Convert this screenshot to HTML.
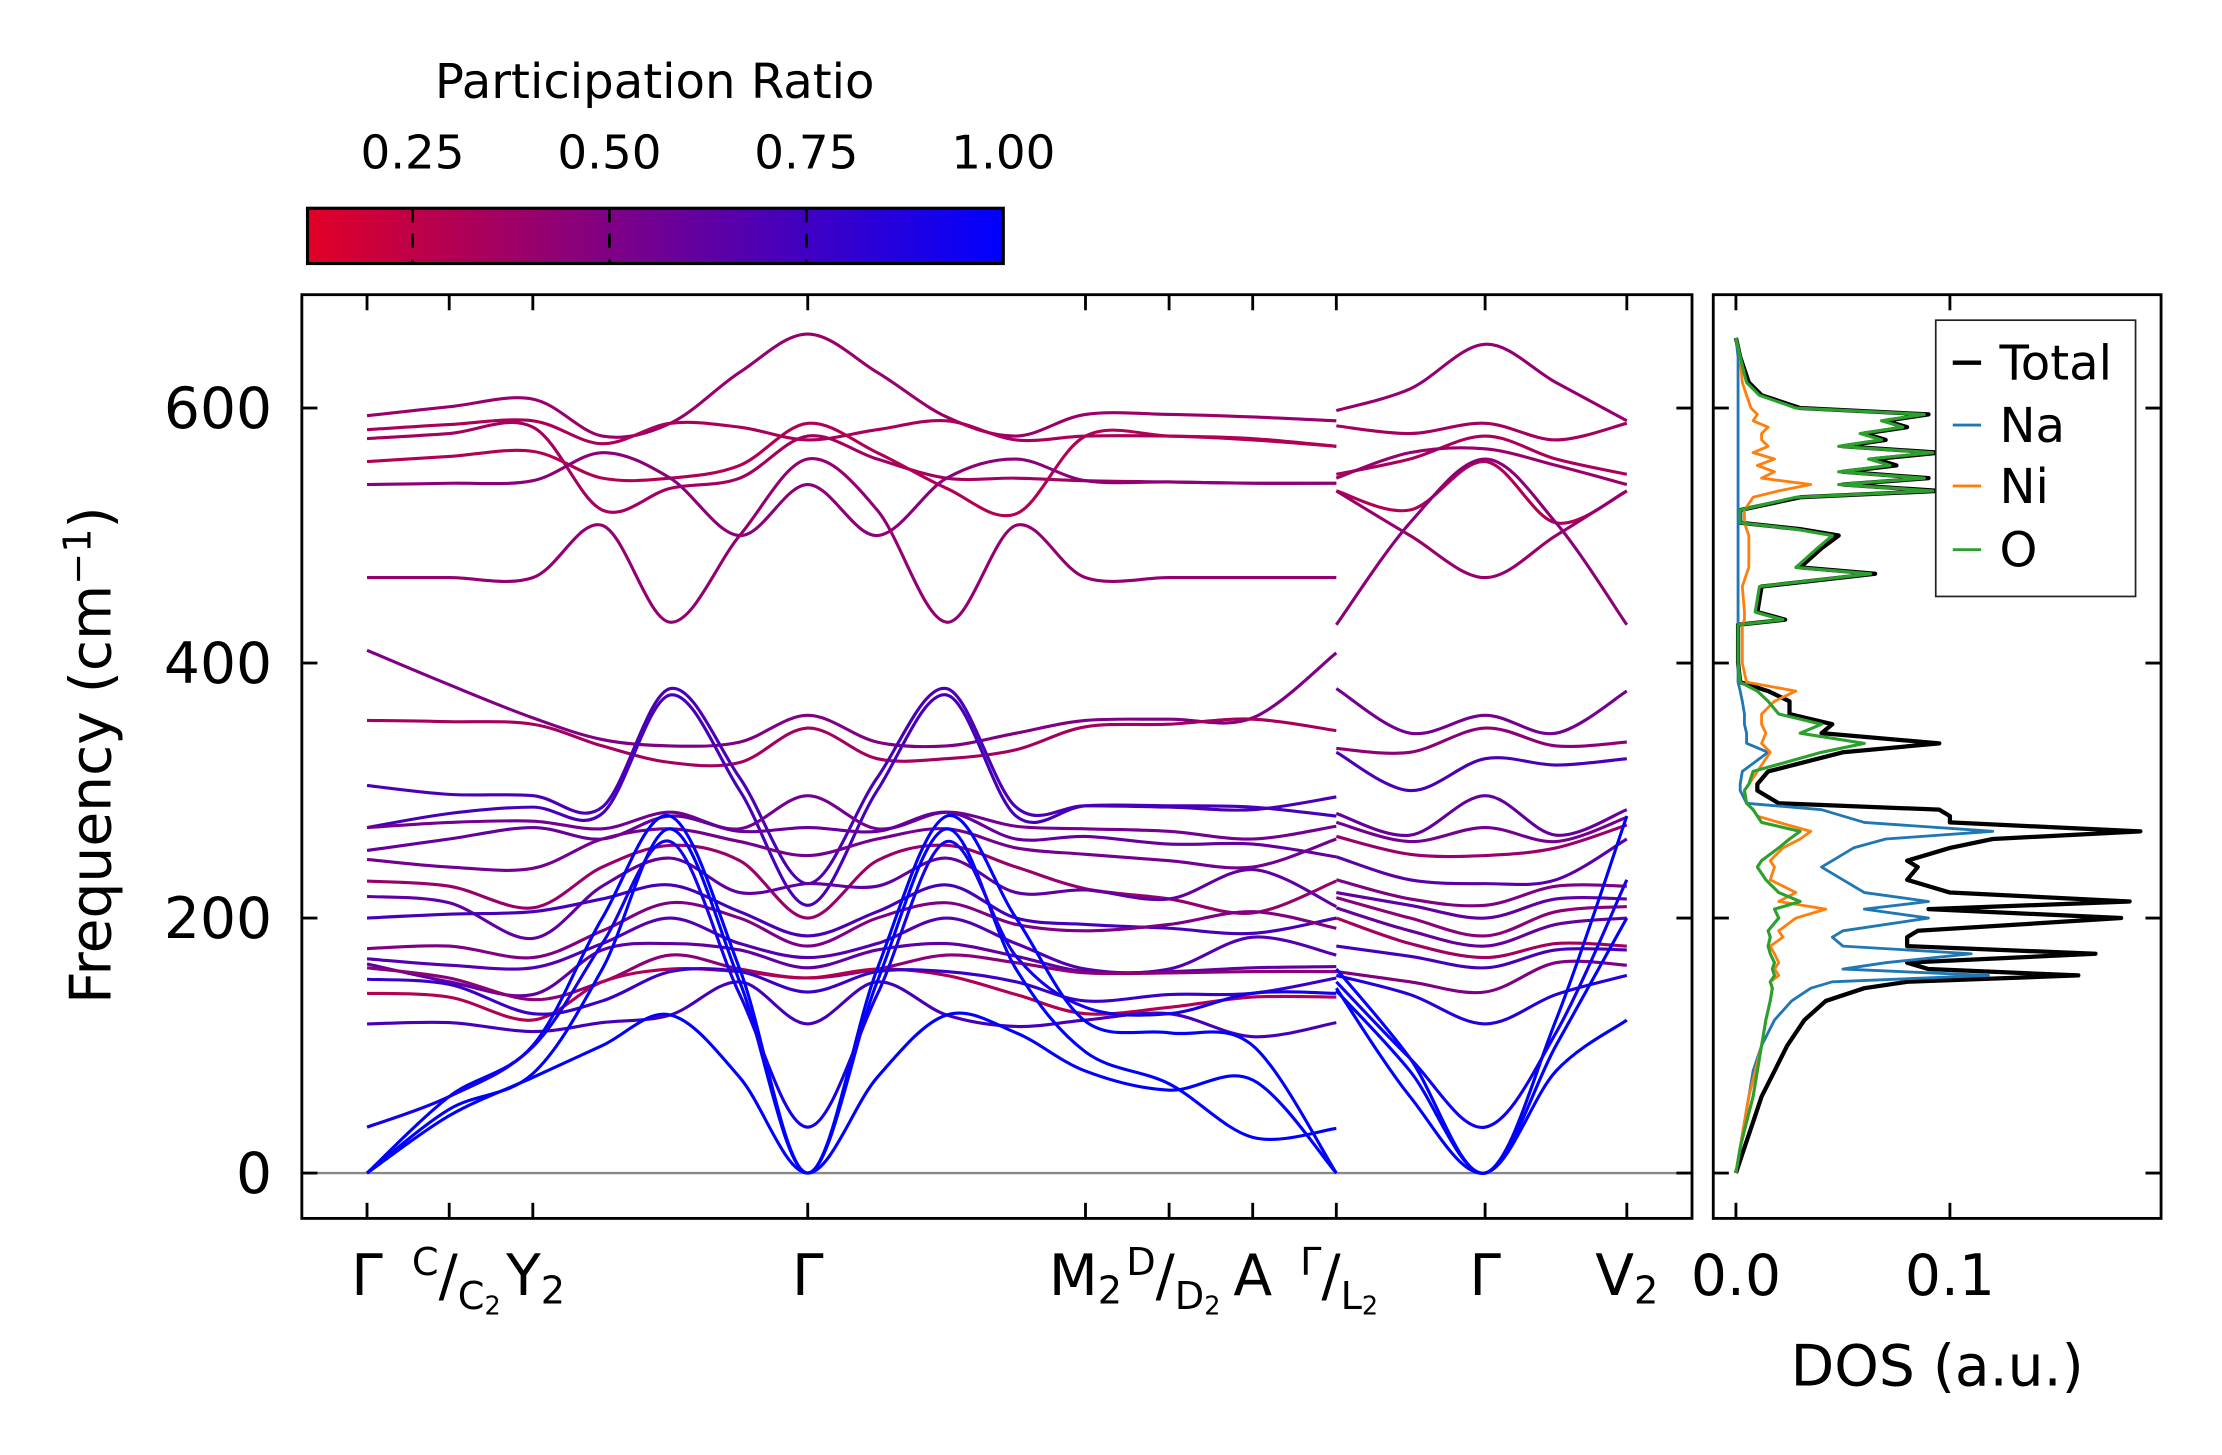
<!DOCTYPE html>
<html><head><meta charset="utf-8"><title>Phonon bands and DOS</title>
<style>
html,body{margin:0;padding:0;background:#fff;}
svg{display:block;font-family:"DejaVu Sans","Liberation Sans",sans-serif;}
</style></head>
<body>
<svg id="fig" width="2222" height="1455" viewBox="0 0 1568 1027" preserveAspectRatio="none" xmlns="http://www.w3.org/2000/svg">
<defs>
<linearGradient id="cmap" x1="0" x2="1" y1="0" y2="0">
<stop offset="0" stop-color="rgb(225,0,38)"/><stop offset="1" stop-color="rgb(0,0,255)"/>
</linearGradient>
<clipPath id="clipMain"><rect x="213" y="208" width="981" height="652"/></clipPath>
<clipPath id="clipDos"><rect x="1209" y="208" width="316" height="652"/></clipPath>
</defs>
<g>
<text x="462" y="69" font-size="34" text-anchor="middle">Participation Ratio</text>
<rect x="217" y="147" width="491" height="39" fill="url(#cmap)" stroke="#000" stroke-width="2.2"/>
<g id="cbticks"></g>
</g>
<g id="main">
<line x1="213" x2="1194" y1="828" y2="828" stroke="#888" stroke-width="1.6"/>
<g id="bands" clip-path="url(#clipMain)"></g>
<rect x="213" y="208" width="981" height="652" fill="none" stroke="#000" stroke-width="2"/>
<g id="mainticks"></g>
<text transform="translate(78,533) rotate(-90)" font-size="40" text-anchor="middle">Frequency (cm<tspan dy="-14" font-size="27">−1</tspan><tspan dy="14">)</tspan></text>
</g>
<g id="dos">
<g id="doslines" clip-path="url(#clipDos)"></g>
<rect x="1209" y="208" width="316" height="652" fill="none" stroke="#000" stroke-width="2"/>
<g id="dosticks"></g>
<text x="1367" y="978" font-size="40" text-anchor="middle">DOS (a.u.)</text>
<g>
<rect x="1366" y="226" width="141" height="195" fill="#fff" stroke="#222" stroke-width="1.2"/>
<line x1="1378" x2="1398" y1="256" y2="256" stroke="#000" stroke-width="3"/>
<text x="1411" y="268" font-size="34">Total</text>
<line x1="1378" x2="1398" y1="300" y2="300" stroke="#1f77b4" stroke-width="2"/>
<text x="1411" y="312" font-size="34">Na</text>
<line x1="1378" x2="1398" y1="343" y2="343" stroke="#ff7f0e" stroke-width="2"/>
<text x="1411" y="355" font-size="34">Ni</text>
<line x1="1378" x2="1398" y1="388" y2="388" stroke="#2ca02c" stroke-width="2"/>
<text x="1411" y="400" font-size="34">O</text>
</g>
</g>
<g font-size="40" text-anchor="middle">
<text x="259" y="914">Γ</text>
<text x="322" y="914"><tspan font-size="27" dy="-14">C</tspan><tspan dy="14">/</tspan><tspan font-size="27" dy="10">C</tspan><tspan font-size="18" dy="4">2</tspan></text>
<text x="378" y="914">Y<tspan font-size="27" dy="6">2</tspan></text>
<text x="570" y="914">Γ</text>
<text x="766" y="914">M<tspan font-size="27" dy="6">2</tspan></text>
<text x="828" y="914"><tspan font-size="27" dy="-14">D</tspan><tspan dy="14">/</tspan><tspan font-size="27" dy="10">D</tspan><tspan font-size="18" dy="4">2</tspan></text>
<text x="884" y="914">A</text>
<text x="945" y="914"><tspan font-size="27" dy="-14">Γ</tspan><tspan dy="14">/</tspan><tspan font-size="27" dy="10">L</tspan><tspan font-size="18" dy="4">2</tspan></text>
<text x="1048" y="914">Γ</text>
<text x="1148" y="914">V<tspan font-size="27" dy="6">2</tspan></text>
</g>
</svg>
<script>
// ---------- data ----------
const kPath1 = [0,0.58,1.17,1.66,2.14,2.63,3.11,3.60,4.09,4.58,5.07,5.66,6.25,6.84];
const kPath2 = [6.84,7.36,7.89,8.39,8.89];
const kTicks = [0,0.58,1.17,3.11,5.07,5.66,6.25,6.84,7.89,8.89];
const freqTicks = [0,200,400,600];
const freqTickLabels = ["0","200","400","600"];
const cbTicks = [0.25,0.50,0.75,1.00];
const cbTickLabels = ["0.25","0.50","0.75","1.00"];
const bandsPR1 = [0.40,0.33,0.36,0.30,0.45,0.42,
  0.50,0.35,0.70,0.72,0.55,0.60,0.55,0.40,0.62,0.72,0.50,0.68,0.62,0.45,0.30,0.78,0.72,1,1,1,0.92];
const bandsFreq1 = [
 [594,601,607,578,588,628,658,628,593,578,595,595,593,590],
 [583,587,590,572,588,585,575,583,590,575,578,578,576,570],
 [576,580,585,520,537,545,578,560,545,545,543,542,541,541],
 [558,562,566,545,545,555,588,565,537,517,578,578,575,570],
 [540,541,543,565,545,500,540,500,545,560,543,542,541,541],
 [467,467,467,508,432,500,560,520,432,508,467,467,467,467],
 [410,383,357,340,335,338,359,338,335,345,355,356,357,408],
 [355,354,352,335,322,322,349,325,325,332,350,352,356,347],
 [304,297,296,287,380,310,227,310,380,287,288,287,285,295],
 [271,282,287,282,375,300,210,300,375,280,288,288,287,280],
 [271,275,276,270,283,270,296,270,283,272,270,268,262,272],
 [253,262,271,262,280,268,271,268,283,262,264,258,258,248],
 [246,240,239,262,270,260,249,262,270,255,250,245,240,262],
 [229,225,208,240,257,245,200,245,257,240,223,215,204,229],
 [217,212,184,225,247,220,227,225,247,220,222,215,238,209],
 [200,203,205,215,226,205,186,205,226,200,195,192,188,200],
 [176,178,169,190,212,200,178,200,212,195,190,195,205,192],
 [168,163,161,180,200,180,169,180,200,180,160,160,185,171],
 [164,150,140,175,180,175,161,175,180,170,158,158,161,162],
 [161,153,136,150,171,160,153,160,171,165,157,157,158,158],
 [141,138,120,150,160,158,153,160,155,140,125,130,138,138],
 [152,148,125,135,158,158,142,158,158,150,135,140,141,153],
 [117,118,111,118,124,150,117,150,124,115,120,125,107,118],
 [0,45,75,100,124,75,0,75,124,110,80,65,73,0],
 [0,50,78,160,270,150,0,150,270,160,95,70,28,35],
 [0,60,100,200,280,160,0,160,280,200,119,110,100,0],
 [36,60,99,180,260,140,36,140,260,170,130,125,141,141]
];
const bandsPR2 = [0.42,0.35,0.33,0.40,0.30,0.40,0.45,
  0.55,0.45,0.70,0.60,0.55,0.40,0.65,0.50,0.62,0.45,0.60,0.35,0.72,0.50,0.85,1,1,1,0.95];
const bandsFreq2 = [
 [598,615,650,620,590],
 [586,580,588,575,588],
 [548,560,578,560,548],
 [545,565,568,555,540],
 [535,520,558,510,535],
 [535,500,467,500,535],
 [430,510,560,510,430],
 [380,345,359,345,378],
 [333,330,349,335,338],
 [330,300,325,320,325],
 [282,265,296,265,285],
 [275,260,271,260,279],
 [264,250,249,255,273],
 [248,230,227,230,262],
 [230,215,210,225,225],
 [220,210,200,215,215],
 [216,200,186,205,209],
 [208,190,178,195,200],
 [200,180,169,180,178],
 [178,170,161,175,175],
 [158,150,142,165,163],
 [155,140,117,140,155],
 [143,80,0,100,200],
 [145,60,0,80,120],
 [160,90,0,120,280],
 [150,90,36,110,230]
];
const dosFreq  = [0,10,20,40,60,80,100,120,135,145,150,155,160,165,172,178,185,190,200,207,213,220,230,240,245,255,262,268,275,280,285,290,300,305,315,330,337,345,352,360,370,378,385,400,430,434,440,460,470,475,490,500,505,510,520,530,535,540,545,550,555,560,565,570,575,580,585,590,595,600,610,620,640,655];
const dosTotal = [0,0.002,0.004,0.008,0.012,0.018,0.024,0.032,0.042,0.060,0.080,0.160,0.090,0.080,0.168,0.080,0.080,0.085,0.180,0.090,0.184,0.100,0.080,0.085,0.080,0.100,0.120,0.189,0.100,0.100,0.095,0.020,0.010,0.010,0.015,0.050,0.095,0.040,0.045,0.025,0.025,0.015,0.002,0.001,0.001,0.023,0.010,0.012,0.065,0.030,0.040,0.048,0.030,0.002,0.002,0.030,0.095,0.050,0.090,0.050,0.075,0.065,0.095,0.050,0.070,0.060,0.080,0.070,0.090,0.030,0.012,0.006,0.002,0];
const dosNa    = [0,0.001,0.002,0.004,0.006,0.008,0.012,0.018,0.026,0.035,0.045,0.118,0.050,0.070,0.110,0.050,0.045,0.050,0.090,0.060,0.090,0.060,0.050,0.040,0.045,0.055,0.070,0.120,0.060,0.050,0.040,0.005,0.002,0.002,0.003,0.015,0.005,0.005,0.004,0.004,0.003,0.002,0.001,0.001,0.001,0.001,0.001,0.001,0.001,0.001,0.001,0.001,0.001,0.001,0.001,0.001,0.001,0.001,0.001,0.001,0.001,0.001,0.001,0.001,0.001,0.001,0.001,0.001,0.001,0.001,0.001,0.001,0.001,0];
const dosNi    = [0,0.001,0.002,0.004,0.006,0.009,0.012,0.014,0.016,0.017,0.016,0.020,0.018,0.020,0.018,0.016,0.022,0.020,0.028,0.042,0.020,0.028,0.016,0.018,0.016,0.022,0.030,0.035,0.020,0.010,0.008,0.005,0.004,0.006,0.010,0.016,0.012,0.014,0.012,0.012,0.018,0.028,0.005,0.003,0.003,0.004,0.004,0.003,0.005,0.006,0.006,0.006,0.005,0.004,0.004,0.008,0.020,0.035,0.012,0.018,0.010,0.018,0.008,0.015,0.012,0.012,0.015,0.008,0.010,0.007,0.005,0.003,0.002,0];
const dosO     = [0,0.001,0.002,0.005,0.008,0.010,0.012,0.014,0.016,0.017,0.016,0.018,0.017,0.018,0.016,0.015,0.016,0.015,0.020,0.018,0.030,0.020,0.014,0.010,0.012,0.020,0.025,0.030,0.012,0.010,0.008,0.005,0.004,0.006,0.008,0.040,0.060,0.030,0.040,0.020,0.015,0.010,0.002,0.001,0.001,0.022,0.009,0.011,0.063,0.028,0.038,0.045,0.028,0.002,0.002,0.028,0.092,0.048,0.088,0.048,0.072,0.062,0.092,0.048,0.068,0.058,0.078,0.068,0.088,0.028,0.011,0.005,0.002,0];

// ---------- scales ----------
const NS = "http://www.w3.org/2000/svg";
function xk(k){ return 259 + k*100; }
function yf(f){ return 828 - 0.9*f; }
function xd(v){ return 1225 + v*1510; }
function xcb(p){ return 217 + (p-0.1167)*(491/(1-0.1167)); }
function prColor(p){
  const t = Math.max(0,Math.min(1,(p-0.1167)/(1-0.1167)));
  return "rgb("+Math.round(225*(1-t))+",0,"+Math.round(38+217*t)+")";
}
function smoothPath(xs, ys){
  let d = "M"+xs[0].toFixed(1)+","+ys[0].toFixed(1);
  for(let i=0;i<xs.length-1;i++){
    const x0=xs[Math.max(i-1,0)], y0=ys[Math.max(i-1,0)];
    const x1=xs[i], y1=ys[i], x2=xs[i+1], y2=ys[i+1];
    const x3=xs[Math.min(i+2,xs.length-1)], y3=ys[Math.min(i+2,xs.length-1)];
    const c1x=x1+(x2-x0)/6, c1y=y1+(y2-y0)/6, c2x=x2-(x3-x1)/6, c2y=y2-(y3-y1)/6;
    d += " C"+c1x.toFixed(1)+","+c1y.toFixed(1)+" "+c2x.toFixed(1)+","+c2y.toFixed(1)+" "+x2.toFixed(1)+","+y2.toFixed(1);
  }
  return d;
}
function mk(tag, attrs, parent){
  const e = document.createElementNS(NS, tag);
  for(const k in attrs) e.setAttribute(k, attrs[k]);
  parent.appendChild(e); return e;
}

// ---------- bands ----------
const gB = document.getElementById("bands");
function drawBands(kp, freqs, prs){
  freqs.forEach((fs, i) => {
    const p = mk("path", {d: smoothPath(kp.map(xk), fs.map(yf)), fill:"none", stroke: prColor(prs[i]), "stroke-width":"2.2", "stroke-linejoin":"round"}, gB);
    
    
  });
}
drawBands(kPath1, bandsFreq1, bandsPR1);
drawBands(kPath2, bandsFreq2, bandsPR2);

// ---------- main ticks ----------
const gT = document.getElementById("mainticks");
kTicks.forEach(k => {
  const t1 = mk("line", {x1:xk(k), x2:xk(k), y1:208, y2:219, stroke:"#000", "stroke-width":"2"}, gT);
  
  
  const t2 = mk("line", {x1:xk(k), x2:xk(k), y1:849, y2:860, stroke:"#000", "stroke-width":"2"}, gT);
  
  
});
freqTicks.forEach((f, i) => {
  const a = mk("line", {x1:213, x2:224, y1:yf(f), y2:yf(f), stroke:"#000", "stroke-width":"2"}, gT);
  
  
  const b = mk("line", {x1:1183, x2:1194, y1:yf(f), y2:yf(f), stroke:"#000", "stroke-width":"2"}, gT);
  
  
  const t = mk("text", {x:192, y:yf(f)+14, "font-size":"40", "text-anchor":"end"}, gT);
  t.textContent = freqTickLabels[i];
  
  
});

// ---------- colorbar ticks ----------
const gC = document.getElementById("cbticks");
cbTicks.forEach((p, i) => {
  if (p < 1) {
    const l = mk("line", {x1:xcb(p), x2:xcb(p), y1:147, y2:186, stroke:"#000", "stroke-width":"2", "stroke-dasharray":"10,8"}, gC);
    
    
  }
  const t = mk("text", {x:xcb(p), y:119, "font-size":"33", "text-anchor":"middle"}, gC);
  t.textContent = cbTickLabels[i];
  
  
});

// ---------- DOS ----------
const gD = document.getElementById("doslines");
function dosLine(vals, color, w, name){
  const pts = vals.map((v,i) => xd(v).toFixed(1)+","+yf(dosFreq[i]).toFixed(1)).join(" ");
  const pl = mk("polyline", {points: pts, fill:"none", stroke: color, "stroke-width": w, "stroke-linejoin":"round"}, gD);
  
  
}
dosLine(dosTotal, "#000", "3", "dos-total-line");
dosLine(dosNa, "#1f77b4", "2", "dos-na-line");
dosLine(dosNi, "#ff7f0e", "2", "dos-ni-line");
dosLine(dosO, "#2ca02c", "2.2", "dos-o-line");

const gDT = document.getElementById("dosticks");
const dosXTicks = [0, 0.1];
const dosXTickLabels = ["0.0", "0.1"];
dosXTicks.forEach((v, i) => {
  const a = mk("line", {x1:xd(v), x2:xd(v), y1:849, y2:860, stroke:"#000", "stroke-width":"2"}, gDT);
  
  
  const b = mk("line", {x1:xd(v), x2:xd(v), y1:208, y2:219, stroke:"#000", "stroke-width":"2"}, gDT);
  
  
  const t = mk("text", {x:xd(v), y:914, "font-size":"40", "text-anchor":"middle"}, gDT);
  t.textContent = dosXTickLabels[i];
  
  
});
freqTicks.forEach(f => {
  const a = mk("line", {x1:1209, x2:1220, y1:yf(f), y2:yf(f), stroke:"#000", "stroke-width":"2"}, gDT);
  
  
  const b = mk("line", {x1:1514, x2:1525, y1:yf(f), y2:yf(f), stroke:"#000", "stroke-width":"2"}, gDT);
  
  
});
</script>
</body></html>
